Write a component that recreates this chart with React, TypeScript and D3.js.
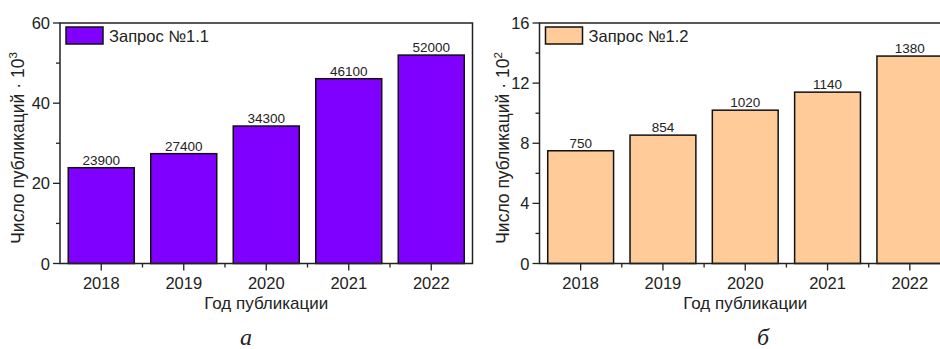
import React from "react";
import * as d3 from "d3";

const years = ["2018", "2019", "2020", "2021", "2022"];
const query11 = [23900, 27400, 34300, 46100, 52000];
const query12 = [750, 854, 1020, 1140, 1380];
const yTicksA = [0, 20, 40, 60];
const yMinorA = [10, 30, 50];
const yTicksB = [0, 4, 8, 12, 16];
const yMinorB = [2, 6, 10, 14];

const FONT = "'Liberation Sans', Arial, sans-serif";

type PanelProps = {
  x0: number;
  x1: number;
  yTop: number;
  yBottom: number;
  values: number[];
  divisor: number;
  yMax: number;
  ticks: number[];
  minor: number[];
  color: string;
  legend: string;
  exp: string;
  titleX: number;
  letter: string;
  letterX: number;
};

function Panel(p: PanelProps) {
  const x = d3.scaleBand<string>().domain(years).range([p.x0, p.x1]).paddingInner(0.2).paddingOuter(0.1);
  const y = d3.scaleLinear().domain([0, p.yMax]).range([p.yBottom, p.yTop]);
  const step = x.step();
  const boundaries = years.slice(1).map((yr) => (x(yr) as number) - (step * 0.2) / 2);
  const cx = (p.x0 + p.x1) / 2;
  return (
    <g fontFamily={FONT} fill="#222">
      {p.values.map((v, i) => (
        <g key={years[i]}>
          <rect
            x={x(years[i])}
            y={y(v / p.divisor)}
            width={x.bandwidth()}
            height={p.yBottom - y(v / p.divisor)}
            fill={p.color}
            stroke="#111"
            strokeWidth={1.5}
          />
          <text
            x={(x(years[i]) as number) + x.bandwidth() / 2}
            y={y(v / p.divisor) - 3}
            textAnchor="middle"
            fontSize={13.5}
          >
            {v}
          </text>
        </g>
      ))}
      <rect x={p.x0} y={p.yTop} width={p.x1 - p.x0} height={p.yBottom - p.yTop} fill="none" stroke="#222" strokeWidth={1.5} />
      {p.ticks.map((t) => (
        <g key={"yt" + t}>
          <line x1={p.x0 - 7} x2={p.x0} y1={y(t)} y2={y(t)} stroke="#222" strokeWidth={1.3} />
          <text x={p.x0 - 10} y={y(t) + 6} textAnchor="end" fontSize={16.5}>
            {t}
          </text>
        </g>
      ))}
      {p.minor.map((t) => (
        <line key={"ym" + t} x1={p.x0 - 4} x2={p.x0} y1={y(t)} y2={y(t)} stroke="#222" strokeWidth={1.3} />
      ))}
      {years.map((yr) => {
        const c = (x(yr) as number) + x.bandwidth() / 2;
        return (
          <g key={"xt" + yr}>
            <line x1={c} x2={c} y1={p.yBottom} y2={p.yBottom + 7} stroke="#222" strokeWidth={1.3} />
            <text x={c} y={p.yBottom + 25} textAnchor="middle" fontSize={16.5}>
              {yr}
            </text>
          </g>
        );
      })}
      {boundaries.map((b, i) => (
        <line key={"xm" + i} x1={b} x2={b} y1={p.yBottom} y2={p.yBottom + 4} stroke="#222" strokeWidth={1.3} />
      ))}
      <text x={cx} y={p.yBottom + 45} textAnchor="middle" fontSize={17}>
        Год публикации
      </text>
      <text transform={`translate(${p.titleX},148) rotate(-90)`} textAnchor="middle" fontSize={17.5}>
        Число публикаций · 10
        <tspan fontSize={11.5} dy={-7}>
          {p.exp}
        </tspan>
      </text>
      <rect x={p.x0 + 6} y={p.yTop + 4} width={37} height={17} fill={p.color} stroke="#111" strokeWidth={1.5} />
      <text x={p.x0 + 49} y={p.yTop + 19} fontSize={16.5}>
        {p.legend}
      </text>
      <text x={p.letterX} y={345} textAnchor="middle" fontSize={24} fontStyle="italic" fontFamily="'Liberation Serif', 'Times New Roman', serif">
        {p.letter}
      </text>
    </g>
  );
}

export default function App() {
  return (
    <svg width={940} height={349} style={{ position: "absolute", left: 0, top: 0, background: "#fff" }}>
      <rect x={0} y={0} width={940} height={349} fill="#fff" />
      <Panel
        x0={60}
        x1={472.5}
        yTop={23}
        yBottom={263.5}
        values={query11}
        divisor={1000}
        yMax={60}
        ticks={yTicksA}
        minor={yMinorA}
        color="#8000ff"
        legend="Запрос №1.1"
        exp="3"
        titleX={24}
        letter="а"
        letterX={246}
      />
      <Panel
        x0={539.5}
        x1={951}
        yTop={23}
        yBottom={263.5}
        values={query12}
        divisor={100}
        yMax={16}
        ticks={yTicksB}
        minor={yMinorB}
        color="#ffcc99"
        legend="Запрос №1.2"
        exp="2"
        titleX={509}
        letter="б"
        letterX={763}
      />
    </svg>
  );
}
